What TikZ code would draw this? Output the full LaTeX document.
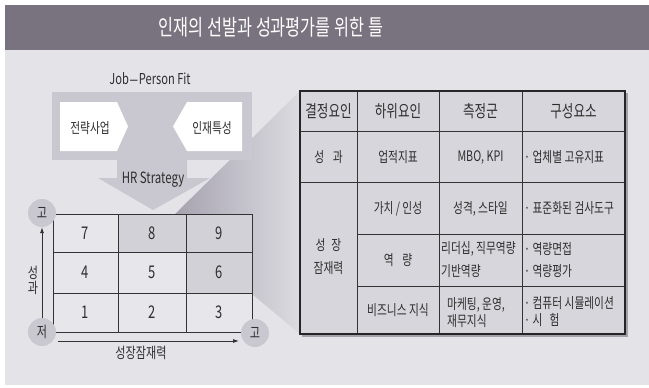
\documentclass[tikz,border=0pt]{standalone}
\usepackage{fontspec}
\newfontfamily\kr[FakeStretch=0.74]{Noto Sans CJK KR}
\usetikzlibrary{arrows.meta}
\definecolor{titlebg}{HTML}{78737F}
\definecolor{panelbg}{HTML}{E4E3E8}
\definecolor{boxgray}{HTML}{C9C8D0}
\definecolor{cellA}{HTML}{E7E6EB}
\definecolor{cellB}{HTML}{D2D1D7}
\definecolor{tablefill}{HTML}{D7D6DC}
\definecolor{linecol}{HTML}{333333}
\definecolor{txt}{HTML}{2E2E2E}
\definecolor{shadowc}{HTML}{A3A1AB}
\definecolor{projdark}{HTML}{A6A3AF}
\definecolor{projlight}{HTML}{DCDBE1}
\begin{document}
\begin{tikzpicture}[x=1pt,y=-1pt,
  every node/.style={inner sep=0pt, text=txt},
  ktitle/.style={font=\kr\fontsize{22}{26}\selectfont, text=white},
  kb/.style={font=\kr\fontsize{14.5}{17}\selectfont},
  kh/.style={font=\kr\fontsize{17}{20}\selectfont},
  knum/.style={font=\kr\fontsize{17.5}{19}\selectfont},
  circ/.style={circle, fill=boxgray, minimum size=28pt, font=\kr\fontsize{15}{17}\selectfont},
  gl/.style={draw=linecol, line width=0.9pt},
  inner/.style={draw=linecol, line width=0.8pt},
  outer/.style={draw=black!85, line width=1.8pt},
  arr/.style={draw=linecol, line width=0.8pt, -{Latex[length=6pt,width=4pt]}},
]
\useasboundingbox (0,0) rectangle (649,388);
\fill[white] (0,0) rectangle (649,388);
\fill[panelbg] (5,50) rectangle (649,385);
\fill[titlebg] (5,5) rectangle (649,50);
\node[ktitle] (title) at (271,27) {인재의 선발과 성과평가를 위한 틀};

% projection shadow
\shade[left color=projdark, right color=projlight]
  (175,214) -- (300,91) -- (300,334) -- (252,294) -- (252,214) -- cycle;

% Job-Person Fit block
\node[kb, font=\kr\fontsize{15}{17}\selectfont] (jpf) at (150,79) {Job{\fontspec{DejaVu Sans}\fontsize{12}{14}\selectfont −}Person Fit};
\fill[boxgray] (52,92) rectangle (252,160);
\fill[boxgray] (117,160) -- (187,160) -- (187,178) -- (210,178) -- (153,210) -- (98,178) -- (117,178) -- cycle;
\fill[white] (60,102) -- (117,102) -- (128,126.5) -- (117,151) -- (60,151) -- cycle;
\fill[white] (242,102) -- (187,102) -- (173,126.5) -- (187,151) -- (242,151) -- cycle;
\node[kb] (biz) at (90,128) {전략사업};
\node[kb] (tal) at (212,128) {인재특성};
\node[kb, font=\kr\fontsize{15.5}{17}\selectfont] (hrs) at (153,180) {HR Strategy};

% grid
\fill[cellA] (53,214) rectangle (252,332);
\fill[cellB] (118,214) rectangle (252,252);
\fill[cellB] (186,252) rectangle (252,293);
\draw[gl] (53,214) -- (252,214) -- (252,332);
\draw[gl] (53,214) -- (53,332) -- (252,332);
\draw[gl] (53,252) -- (252,252);
\draw[gl] (53,293) -- (252,293);
\draw[gl] (118,214) -- (118,332);
\draw[gl] (186,214) -- (186,332);
\node[knum] (n7) at (85.5,233) {7};
\node[knum] (n8) at (152,233) {8};
\node[knum] (n9) at (219,233) {9};
\node[knum] (n4) at (85.5,272.5) {4};
\node[knum] (n5) at (152,272.5) {5};
\node[knum] (n6) at (219,272.5) {6};
\node[knum] (n1) at (85.5,312.5) {1};
\node[knum] (n2) at (152,312.5) {2};
\node[knum] (n3) at (219,312.5) {3};

\node[circ] (hiY) at (42,213) {고};
\node[circ] (lo) at (42,332) {저};
\node[circ] (hiX) at (255,333) {고};
\draw[arr] (lo) -- (hiY);
\coordinate (ha) at (58,341);
\coordinate (hb) at (239,341);
\draw[arr] (ha) -- (hb);
\node[kb, align=center, font=\kr\fontsize{15}{15}\selectfont] (perf) at (33,280.5) {성\\과};
\node[kb, font=\kr\fontsize{15}{17}\selectfont] (grow) at (141,353) {성장잠재력};

% table
\fill[shadowc] (302,93) rectangle (627.5,336.5);
\fill[tablefill] (300,91) rectangle (625,334);
\draw[inner] (300,131) -- (625,131);
\draw[inner] (300,182) -- (625,182);
\draw[inner] (357,234) -- (625,234);
\draw[inner] (357,286) -- (625,286);
\draw[inner] (357,91) -- (357,334);
\draw[inner] (439,91) -- (439,334);
\draw[inner] (522,91) -- (522,334);
\draw[outer] (300,91) rectangle (625,334);

\node[kh] (h1) at (328.5,111.5) {결정요인};
\node[kh] (h2) at (398,111.5) {하위요인};
\node[kh] (h3) at (480.5,111.5) {측정군};
\node[kh] (h4) at (573.5,111.5) {구성요소};

\node[kb] (r1a) at (328.5,157.5) {성\hspace{0.6em}과};
\node[kb] (r1b) at (398,157.5) {업적지표};
\node[kb] (r1c) at (480.5,157.5) {MBO, KPI};
\node[kb, anchor=west] (r1d) at (524,157.5) {· 업체별 고유지표};

\node[kb, align=center, font=\kr\fontsize{14.5}{23}\selectfont] (gr) at (328.5,257) {성\hspace{0.4em}장\\잠재력};

\node[kb] (r2b) at (398,208.5) {가치 / 인성};
\node[kb] (r2c) at (480.5,208.5) {성격, 스타일};
\node[kb, anchor=west] (r2d) at (524,208.5) {· 표준화된 검사도구};

\node[kb] (r3b) at (398,260) {역\hspace{0.6em}량};
\node[kb, anchor=west, align=left, font=\kr\fontsize{14.5}{23}\selectfont] (r3c) at (441,260) {리더십, 직무역량\\기반역량};
\node[kb, anchor=west, align=left, font=\kr\fontsize{14.5}{22}\selectfont] (r3d) at (524,260) {· 역량면접\\· 역량평가};

\node[kb] (r4b) at (398,310) {비즈니스 지식};
\node[kb, anchor=west, align=left, font=\kr\fontsize{14.5}{17}\selectfont] (r4c) at (447,313) {마케팅, 운영,\\재무지식};
\node[kb, anchor=west, align=left, font=\kr\fontsize{14.5}{17}\selectfont] (r4d) at (524,311.5) {· 컴퓨터 시뮬레이션\\· 시\hspace{0.5em}험};
\end{tikzpicture}
\end{document}
